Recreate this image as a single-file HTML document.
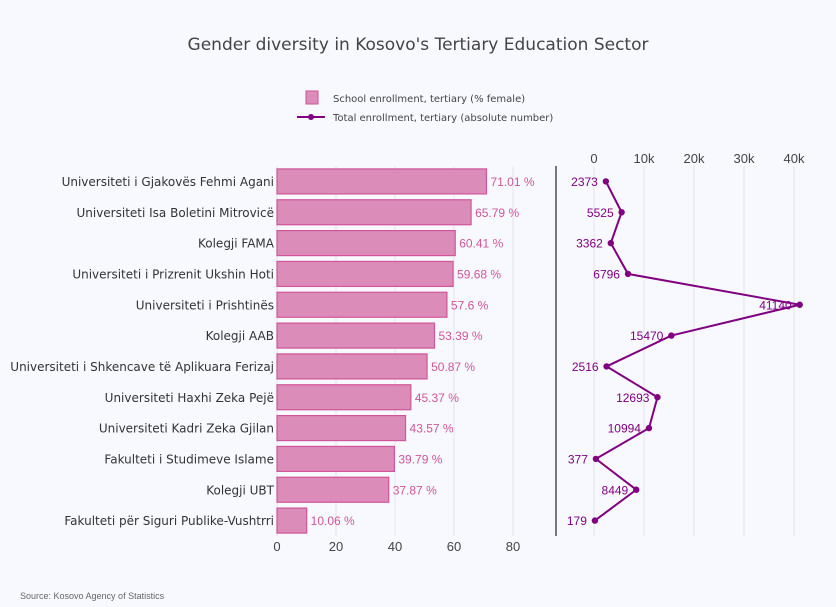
<!DOCTYPE html>
<html><head><meta charset="utf-8"><style>
html,body{margin:0;background:#f8f9fe;overflow:hidden;}
svg{font-family:"Liberation Sans",sans-serif;display:block;}
</style></head><body>
<svg id="c" width="836" height="607" xmlns="http://www.w3.org/2000/svg">
<rect width="836" height="607" fill="#f8f9fe"/>
<text x="418" y="50" text-anchor="middle" font-size="17" fill="#444" font-family="DejaVu Sans, sans-serif">Gender diversity in Kosovo's Tertiary Education Sector</text>
<g font-family="DejaVu Sans, sans-serif">
<rect x="306" y="91" width="12" height="13" fill="#dc8cb8" stroke="#d0559a"/>
<text x="333" y="102" font-size="10" fill="#444">School enrollment, tertiary (% female)</text>
<line x1="297" y1="117" x2="325" y2="117" stroke="#800080" stroke-width="2"/>
<circle cx="311" cy="117" r="3" fill="#800080"/>
<text x="333" y="121" font-size="10" fill="#444">Total enrollment, tertiary (absolute number)</text>
</g>
<g id="plot"></g>
<text x="20" y="599" font-size="9" fill="#666">Source: Kosovo Agency of Statistics</text>
</svg>
<script>
const categories=["Universiteti i Gjakovës Fehmi Agani","Universiteti Isa Boletini Mitrovicë","Kolegji FAMA","Universiteti i Prizrenit Ukshin Hoti","Universiteti i Prishtinës","Kolegji AAB","Universiteti i Shkencave të Aplikuara Ferizaj","Universiteti Haxhi Zeka Pejë","Universiteti Kadri Zeka Gjilan","Fakulteti i Studimeve Islame","Kolegji UBT","Fakulteti për Siguri Publike-Vushtrri"];
const femalePct=[71.01,65.79,60.41,59.68,57.6,53.39,50.87,45.37,43.57,39.79,37.87,10.06];
const totalEnroll=[2373,5525,3362,6796,41140,15470,2516,12693,10994,377,8449,179];
const leftTicks=[0,20,40,60,80];
const rightTicks=[0,10000,20000,30000,40000];
const rightTickLabels=["0","10k","20k","30k","40k"];

const NS="http://www.w3.org/2000/svg";
const g=document.getElementById('plot');
function mk(t,a,txt){const e=document.createElementNS(NS,t);for(const k in a)e.setAttribute(k,a[k]);if(txt!==undefined)e.textContent=txt;g.appendChild(e);return e;}
const plotTop=166,plotBot=536,n=categories.length,step=(plotBot-plotTop)/n;
const yc=i=>plotTop+step*(i+0.5);
const xL=v=>277+v*2.95;
const xR=v=>594+v*0.005;

leftTicks.forEach(t=>{
 const gl=mk('line',{x1:xL(t),x2:xL(t),y1:plotTop,y2:plotBot,stroke:'#e4e4ec'});
 
 
 const tl=mk('text',{x:xL(t),y:551,'text-anchor':'middle','font-size':13,fill:'#444'},t);
 
 
});
rightTicks.forEach((t,i)=>{
 const gl=mk('line',{x1:xR(t),x2:xR(t),y1:plotTop,y2:plotBot,stroke:'#e4e4ec'});
 
 
 const tl=mk('text',{x:xR(t),y:163,'text-anchor':'middle','font-size':13,fill:'#444'},rightTickLabels[i]);
 
 
});
const ax=mk('line',{x1:556,x2:556,y1:plotTop,y2:plotBot,stroke:'#777','stroke-width':2});



categories.forEach((c,i)=>{
 const y=yc(i);
 const lab=mk('text',{x:274,y:y+4.5,'text-anchor':'end','font-size':12,fill:'#333','font-family':'DejaVu Sans, sans-serif'},c);
 
 
 const b=mk('rect',{x:xL(0),y:y-12.5,width:xL(femalePct[i])-xL(0),height:25,fill:'#dc8cb8',stroke:'#d0559a','stroke-width':1.2});
 
 
 const v=mk('text',{x:xL(femalePct[i])+4,y:y+4.5,'font-size':12,fill:'#d0559a'},femalePct[i]+' %');
 
 
});
const pts=totalEnroll.map((v,i)=>xR(v)+','+yc(i)).join(' ');
const pl=mk('polyline',{points:pts,fill:'none',stroke:'#800080','stroke-width':2});


totalEnroll.forEach((v,i)=>{
 const p=mk('circle',{cx:xR(v),cy:yc(i),r:3.2,fill:'#800080'});
 
 
 const t=mk('text',{x:xR(v)-8,y:yc(i)+4.5,'text-anchor':'end','font-size':12,fill:'#800080'},v);
 
 
});
</script>
</body></html>
